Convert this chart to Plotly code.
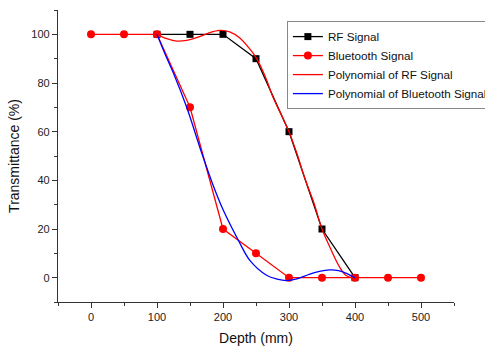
import plotly.graph_objects as go

# Measured data
rf_depth = [100, 150, 200, 250, 300, 350, 400]
rf_signal = [100, 100, 100, 90, 60, 20, 0]

bt_depth = [0, 50, 100, 150, 200, 250, 300, 350, 400, 450, 500]
bt_signal = [100, 100, 100, 70, 20, 10, 0, 0, 0, 0, 0]

# Polynomial fit curves
rf_poly_depth = [100, 115, 130, 145, 160, 178, 195, 210, 225, 240, 251, 265, 276, 290, 300, 312, 325, 338, 350, 362, 377, 387, 398]
rf_poly_value = [100, 98.2, 97.2, 97.5, 98.6, 100.5, 101.6, 101.0, 98.6, 94.2, 90, 82, 74, 66, 60, 51, 40, 30.5, 20, 12.5, 4.2, 0.8, 0]

bt_poly_depth = [100, 112, 125, 145, 168, 185, 200, 223, 241, 266, 282, 296, 312, 330, 346, 362, 375, 387, 400]
bt_poly_value = [100, 92, 84, 70, 51, 38, 28, 15.5, 7, 1, -0.6, -1.2, -0.5, 1.3, 2.6, 3.2, 2.9, 1.8, 0]

fig = go.Figure()
fig.add_trace(go.Scatter(x=rf_depth, y=rf_signal, name="RF Signal", mode="lines+markers",
                         line=dict(color="#000000", width=1.3),
                         marker=dict(symbol="square", size=7, color="#000000")))
fig.add_trace(go.Scatter(x=bt_depth, y=bt_signal, name="Bluetooth Signal", mode="lines+markers",
                         line=dict(color="#ff0000", width=1.3),
                         marker=dict(symbol="circle", size=8, color="#ff0000")))
fig.add_trace(go.Scatter(x=rf_poly_depth, y=rf_poly_value, name="Polynomial of RF Signal", mode="lines",
                         line=dict(color="#ff0000", width=1.3, shape="spline", smoothing=1.0)))
fig.add_trace(go.Scatter(x=bt_poly_depth, y=bt_poly_value, name="Polynomial of Bluetooth Signal", mode="lines",
                         line=dict(color="#0000ff", width=1.3, shape="spline", smoothing=1.0)))

axis_common = dict(showline=True, linecolor="#333333", linewidth=1.3, ticks="outside",
                   ticklen=5, tickwidth=1.2, tickcolor="#333333", showgrid=False, zeroline=False,
                   tickfont=dict(family="Liberation Sans, Arial", size=11, color="#222222"))

fig.update_xaxes(range=[-50, 550], tickvals=[0, 100, 200, 300, 400, 500],
                 minor=dict(ticks="outside", ticklen=3, tickcolor="#333333", dtick=50, tick0=0),
                 title=dict(text="Depth (mm)", font=dict(family="Liberation Sans, Arial", size=14, color="#111111"),
                            standoff=10),
                 **axis_common)
fig.update_yaxes(range=[-10, 110], tickvals=[0, 20, 40, 60, 80, 100],
                 minor=dict(ticks="outside", ticklen=3, tickcolor="#333333", dtick=10, tick0=0),
                 title=dict(text="Transmittance (%)", font=dict(family="Liberation Sans, Arial", size=14, color="#111111"),
                            standoff=8),
                 **axis_common)

fig.update_layout(
    width=485, height=347,
    margin=dict(l=58, r=31, t=10, b=45, autoexpand=False),
    plot_bgcolor="white", paper_bgcolor="white",
    font=dict(family="Liberation Sans, Arial", size=11, color="#111111"),
    legend=dict(x=0.578, y=0.962, xanchor="left", yanchor="top",
                bordercolor="#888888", borderwidth=1, bgcolor="rgba(255,255,255,0)",
                font=dict(family="Liberation Sans, Arial", size=11.7, color="#111111"),
                tracegroupgap=0, itemwidth=30),
)

fig.write_html("out.html", config={"displayModeBar": False},
               post_script="document.body.style.margin='0';")
